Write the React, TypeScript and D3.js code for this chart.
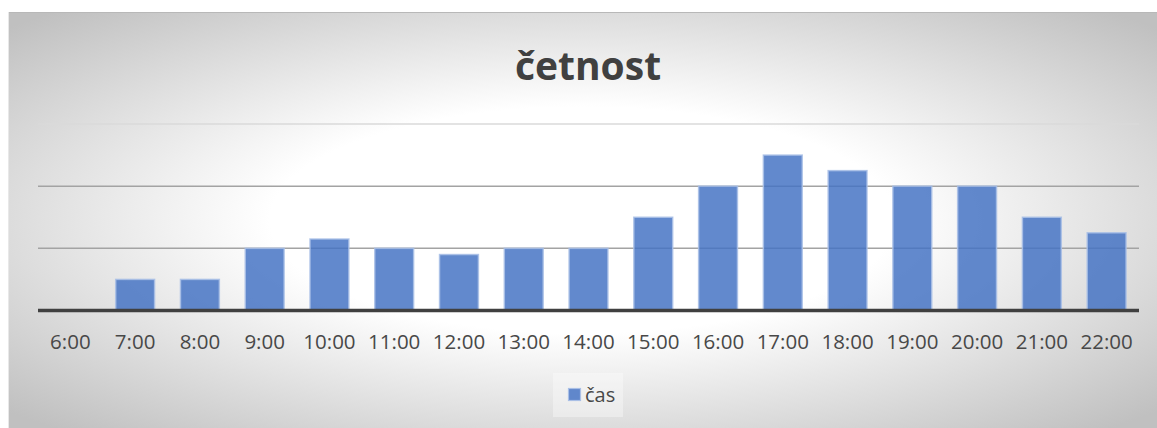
import React from "react";
import * as d3 from "d3";

const categories = ["6:00","7:00","8:00","9:00","10:00","11:00","12:00","13:00","14:00","15:00","16:00","17:00","18:00","19:00","20:00","21:00","22:00"];
const values = [0, 1, 1, 2, 2.3, 2, 1.8, 2, 2, 3, 4, 5, 4.5, 4, 4, 3, 2.5];
const gridTicks = [2, 4, 6];
const seriesName = "čas";
const title = "četnost";

const W = 1157, H = 428;
const FONT = "'Open Sans', 'Noto Sans', sans-serif";

export default function App() {
  const x = d3.scaleBand<string>().domain(categories).range([38, 1139]).paddingInner(0.4).paddingOuter(0.2);
  const y = d3.scaleLinear().domain([0, 6]).range([310.5, 124]);
  return (
    <svg width={W} height={H} style={{ position: "absolute", left: 0, top: 0 }}>
      <defs>
        <radialGradient id="bg" cx="0.5" cy="0.5" r="0.68" gradientUnits="objectBoundingBox">
          <stop offset="0" stopColor="#ffffff" />
          <stop offset="0.4" stopColor="#ffffff" />
          <stop offset="1" stopColor="#c0c0c0" />
        </radialGradient>
      </defs>
      <rect x={0} y={0} width={W} height={H} fill="#ffffff" />
      <rect x={8} y={12} width={W - 8} height={H - 12} fill="url(#bg)" />
      <line x1={8} x2={W} y1={12.5} y2={12.5} stroke="#b8b8b8" strokeWidth={1} />
      <line x1={8.5} x2={8.5} y1={12} y2={H} stroke="#e8e8e8" strokeWidth={1} />
      <text x={588} y={80} textAnchor="middle" fontFamily={FONT} fontWeight="bold" fontSize={39} fill="#404040">{title}</text>
      {gridTicks.map((t) => (
        <line key={t} x1={38} x2={1139} y1={y(t)} y2={y(t)} stroke={t === 6 ? "#dadada" : "#a3a3a3"} strokeWidth={1.5} />
      ))}
      {categories.map((c, i) => (
        values[i] > 0 ? (
          <rect key={c} x={x(c)!} y={y(values[i])} width={x.bandwidth()} height={y(0) - y(values[i])}
            fill="#4472c4" fillOpacity={0.84} stroke="#a9bfe6" strokeOpacity={0.85} strokeWidth={1.5} />
        ) : null
      ))}
      <line x1={38} x2={1139} y1={310.5} y2={310.5} stroke="#404040" strokeWidth={3.5} />
      {categories.map((c) => (
        <text key={c} x={x(c)! + x.bandwidth() / 2} y={349} textAnchor="middle" fontFamily={FONT} fontSize={20.5} fill="#484848">{c}</text>
      ))}
      <rect x={553} y={373} width={70} height={44} fill="#ffffff" fillOpacity={0.35} />
      <rect x={568.5} y={388.5} width={12} height={12} fill="#4472c4" fillOpacity={0.84} stroke="#a9bfe6" strokeWidth={1.2} />
      <text x={585} y={402} fontFamily={FONT} fontSize={20} fill="#484848">{seriesName}</text>
    </svg>
  );
}
